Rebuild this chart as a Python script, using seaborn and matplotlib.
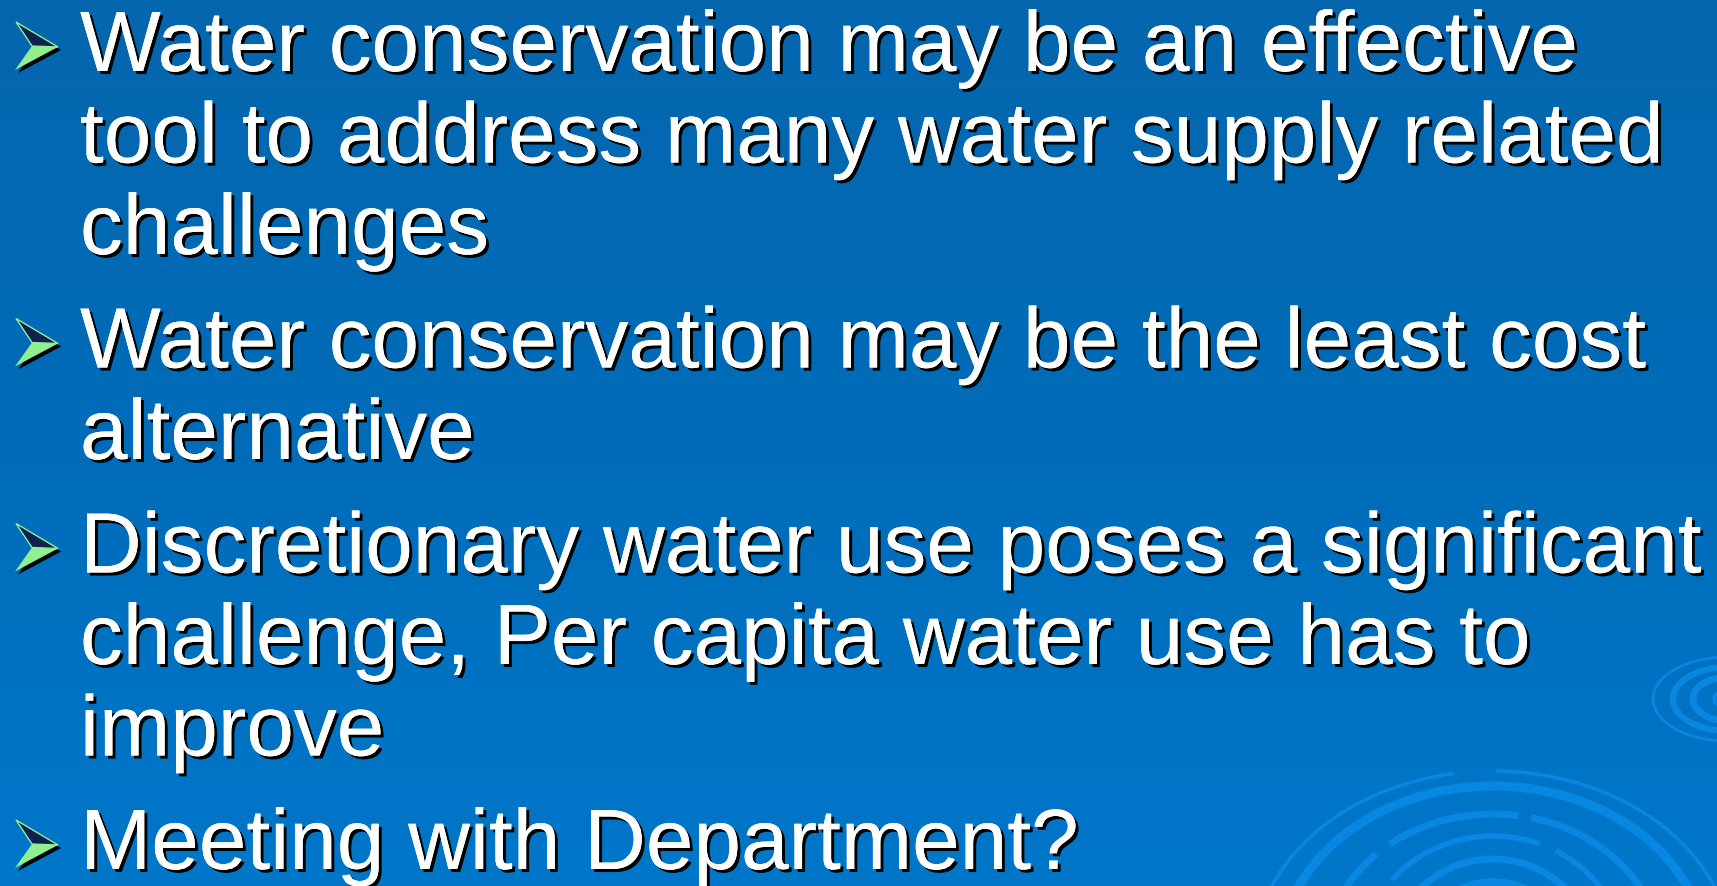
import numpy as np
import matplotlib
matplotlib.use("Agg")
import matplotlib.pyplot as plt
import matplotlib.patheffects as pe
from matplotlib.patches import Arc, Polygon, Ellipse
from matplotlib.colors import LinearSegmentedColormap
import seaborn as sns

sns.set_theme(style="white")
plt.rcParams['font.family'] = ['Liberation Sans', 'DejaVu Sans']

# Slide content
bullets = [
    ["Water conservation may be an effective",
     "tool to address many water supply related",
     "challenges"],
    ["Water conservation may be the least cost",
     "alternative"],
    ["Discretionary water use poses a significant",
     "challenge, Per capita water use has to",
     "improve"],
    ["Meeting with Department?"],
]

W, H = 1717, 887
fig = plt.figure(figsize=(W / 100, H / 100), dpi=100)
ax = fig.add_axes([0, 0, 1, 1])
ax.set_xlim(0, W)
ax.set_ylim(H, 0)
ax.axis('off')

# background gradient
bg = LinearSegmentedColormap.from_list('bg', ['#0566ae', '#006cb9', '#0077ca'])
grad = np.linspace(0, 1, 256).reshape(-1, 1)
ax.imshow(grad, cmap=bg, extent=[0, W, H, 0], aspect='auto', zorder=0)

# ripple decoration, bottom right
ring_col = '#0a8ae6'
cx, cy = 1493, 960
rings = [  # (a, b, linewidth, list of (theta1, theta2))
    (240, 188, 2.5, [(180, 258), (271, 360)]),
    (214, 173, 6.5, [(180, 360)]),
    (169, 145, 5.0, [(200, 222), (228, 280), (285, 360)]),
    (132, 123, 4.0, [(195, 212), (218, 292), (300, 340)]),
    (102, 100, 5.0, [(180, 360)]),
]
for a, b, lw, segs in rings:
    for t1, t2 in segs:
        ax.add_patch(Arc((cx, cy), 2 * a, 2 * b, theta1=t1, theta2=t2,
                         color=ring_col, lw=lw, alpha=0.9, zorder=1))
ax.add_patch(Ellipse((cx, cy), 160, 160, color='#0c8ce8', alpha=0.8, zorder=1))

# small ripple at right edge
sx, sy = 1728, 700
for a, b, lw in [(75, 42, 2.0), (55, 32, 4.5), (35, 22, 5.0)]:
    ax.add_patch(Arc((sx, sy), 2 * a, 2 * b, theta1=90, theta2=270,
                     color=ring_col, lw=lw, alpha=0.85, zorder=1))
ax.add_patch(Ellipse((sx, sy), 30, 20, color='#0c8ce8', alpha=0.8, zorder=1))


def draw_bullet(x0, base):
    tl = (x0 + 1, base - 49)
    tip = (x0 + 43, base - 24)
    bl = (x0, base - 1)
    notch = (x0 + 17, base - 25)
    shadow = [(p[0] + 3, p[1] + 3) for p in (tl, tip, bl, notch)]
    ax.add_patch(Polygon(shadow, closed=True, fc='black', ec='none', zorder=2))
    ax.add_patch(Polygon([bl, notch, tip], closed=True, fc='#90f090', ec='none', zorder=3))
    ax.add_patch(Polygon([tl, tip, notch], closed=True, fc='#102050',
                         ec='#90f090', lw=1.0, zorder=3))


text_x = 80
line_step = 91.5
para_gap = 22
shadow_fx = [pe.withSimplePatchShadow(offset=(2.2, -2.2), shadow_rgbFace='black', alpha=1.0),
             pe.Normal()]

y = 72
for i, lines in enumerate(bullets):
    if i > 0:
        y += para_gap
    draw_bullet(15, y)
    for j, line in enumerate(lines):
        if j > 0:
            y += line_step
        ax.text(text_x, y, line, fontsize=61.6, color='white', va='baseline', ha='left',
                path_effects=shadow_fx, zorder=4)
    y += line_step

fig.savefig('out.png', dpi=100)
